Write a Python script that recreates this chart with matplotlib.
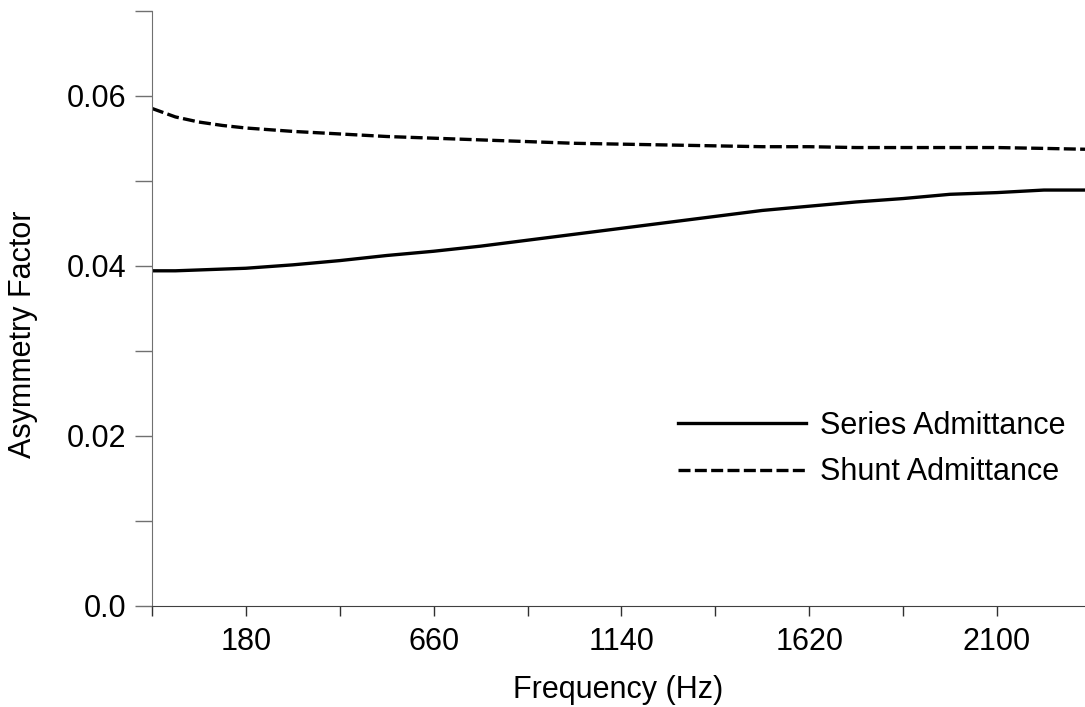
import matplotlib
matplotlib.use("Agg")
import matplotlib.pyplot as plt

plt.rcParams['font.family'] = ['Liberation Sans', 'DejaVu Sans']

freq = [-60, 0, 60, 120, 180, 300, 420, 540, 660, 780, 900, 1020, 1140,
        1260, 1380, 1500, 1620, 1740, 1860, 1980, 2100, 2220, 2325]
series_adm = [0.0394, 0.0394, 0.0395, 0.0396, 0.0397, 0.0401, 0.0406, 0.0412,
              0.0417, 0.0423, 0.0430, 0.0437, 0.0444, 0.0451, 0.0458, 0.0465,
              0.0470, 0.0475, 0.0479, 0.0484, 0.0486, 0.0489, 0.0489]
shunt_adm = [0.0585, 0.0575, 0.0569, 0.0565, 0.0562, 0.0558, 0.0555, 0.0552,
             0.0550, 0.0548, 0.0546, 0.0544, 0.0543, 0.0542, 0.0541, 0.0540,
             0.0540, 0.0539, 0.0539, 0.0539, 0.0539, 0.0538, 0.0537]

x_major = [180, 660, 1140, 1620, 2100]
x_minor = [-60, 420, 900, 1380, 1860]
y_major = [0.0, 0.02, 0.04, 0.06]
y_major_labels = ['0.0', '0.02', '0.04', '0.06']
y_minor = [0.01, 0.03, 0.05, 0.07]

fs = 22
fig = plt.figure(figsize=(10.85, 7.07), dpi=100)
ax = fig.add_axes([152 / 1085, 1 - 605.7 / 707, 1 - 152 / 1085, (605.7 - 10.7) / 707])

ax.plot(freq, series_adm, color='black', lw=2.4, label='Series Admittance')
ax.plot(freq, shunt_adm, color='black', lw=2.4, dashes=(3.6, 1.3), label='Shunt Admittance')

ax.set_xlim(-60, 2325)
ax.set_ylim(0, 0.07)

ax.set_xticks(x_major)
ax.set_xticklabels([str(v) for v in x_major])
ax.set_xticks(x_minor, minor=True)
ax.set_yticks(y_major)
ax.set_yticklabels(y_major_labels)
ax.set_yticks(y_minor, minor=True)

for s in ['top', 'right']:
    ax.spines[s].set_visible(False)
ax.spines['left'].set_color('#707070')
ax.spines['bottom'].set_color('#404040')

ax.tick_params(axis='y', which='both', length=12.2, width=1, color='#707070', labelsize=fs, pad=6)
ax.tick_params(axis='x', which='both', length=7.2, width=1, color='#303030', labelsize=fs, pad=8)

ax.set_xlabel('Frequency (Hz)', fontsize=fs)
ax.set_ylabel('Asymmetry Factor', fontsize=fs)
ax.xaxis.set_label_coords(0.5, -0.1165)
ax.yaxis.set_label_coords(-0.122, 0.457)

leg = ax.legend(loc='center left', bbox_to_anchor=((678 - 152) / 933, (605.7 - 449) / 595),
                frameon=False, fontsize=fs, handlelength=4.2, handletextpad=0.45,
                labelspacing=0.55, borderaxespad=0, borderpad=0)

fig.savefig('out.png', dpi=100)
